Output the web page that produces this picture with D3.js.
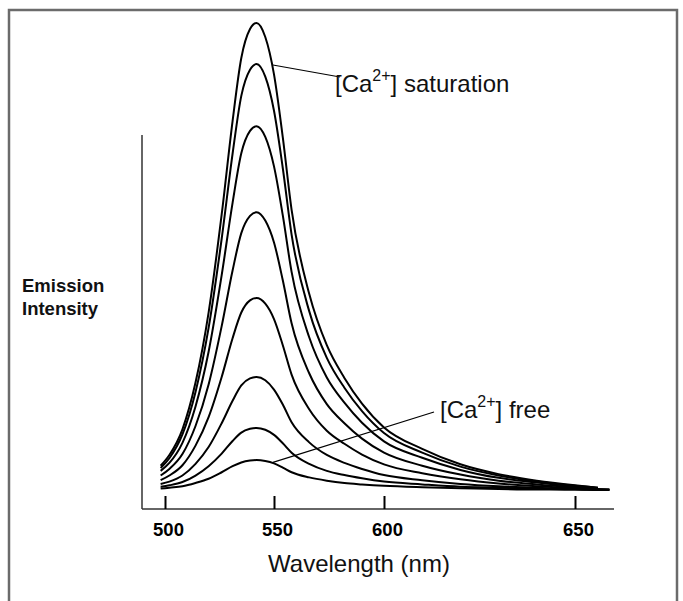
<!DOCTYPE html>
<html><head><meta charset="utf-8">
<script src="https://cdn.jsdelivr.net/npm/d3@7"></script>
<style>
html,body{margin:0;padding:0;background:#fff;}
svg{display:block;font-family:"Liberation Sans",Arial,Helvetica,sans-serif;}
</style></head>
<body>
<svg id="chart" width="683" height="601"></svg>
<script>
// ---- data ----
const wavelengths = [498,502,508,514,520,526,531,535,539,542,546,550,554,558,566,574,582,590,600,610,620,630,640,650,656,659];
const s1 = [5.2,7.5,13,23,38,59,79,92.5,98.7,100,97,89,75.5,60,42,31,24,18.5,13.4,8.8,5.5,3.4,2.0,1.0,0.5,null];
const s2 = [4.7,6.8,11.9,21.0,34.7,53.8,72.0,84.4,90.0,91.2,88.5,81.2,68.9,54.7,38.3,28.3,21.9,16.9,12.2,8.0,5.0,3.1,1.8,0.9,0.5,null];
const s3 = [4.1,5.8,10.1,17.9,29.6,46.0,61.5,72.1,76.9,77.9,75.6,69.3,58.8,46.7,32.7,24.1,18.7,14.4,10.4,6.9,4.3,2.6,1.6,0.8,0.4,null];
const s4 = [3.1,4.5,7.7,13.7,22.6,35.1,47.0,55.0,58.7,59.5,57.7,53.0,44.9,35.7,25.0,18.4,14.3,11.0,8.0,5.2,3.3,2.0,1.2,0.6,0.3,null];
const s5 = [2.1,3.1,5.3,9.5,15.6,24.2,32.5,38.0,40.6,41.1,39.9,36.6,31.0,24.7,17.3,12.7,9.9,7.6,5.5,3.6,2.3,1.4,0.8,0.4,0.2,0.1];
const s6 = [1.3,1.8,3.1,5.6,9.2,14.3,19.1,22.4,23.9,24.2,23.5,21.5,18.3,14.5,10.2,7.5,5.8,4.5,3.2,2.1,1.3,0.8,0.5,0.2,0.1,0.1];
const s7 = [0.7,1.0,1.7,3.1,5.1,7.8,10.5,12.3,13.1,13.3,12.9,11.8,10.0,8.0,5.6,4.1,3.2,2.5,1.8,1.2,0.7,0.5,0.3,0.1,0.1,0];
const s8 = [0.3,0.5,0.8,1.5,2.4,3.8,5.1,5.9,6.3,6.4,6.2,5.7,4.8,3.8,2.7,2.0,1.5,1.2,0.9,0.6,0.4,0.2,0.1,0.1,0,0];
const seriesList = [s1,s2,s3,s4,s5,s6,s7,s8];
const xTicks = [500,550,600,650];
const xLabel = "Wavelength (nm)";
const yLabelLines = ["Emission","Intensity"];

// ---- layout ----
const svg = d3.select("#chart");
const x = d3.scaleLinear().domain([500,550,600,650]).range([165,274,384,575]);
const y = d3.scaleLinear().domain([0,100]).range([490,23]);
const axisY = 509, axisLeft = 142, axisRight = 614, yAxisTop = 135;

// frame
svg.append("path")
  .attr("d", `M9,601 L9,10 L677,10 L677,601`)
  .attr("fill","none").attr("stroke","#6b6b6b").attr("stroke-width",2.5);

// axes
svg.append("line").attr("x1",axisLeft).attr("x2",axisLeft).attr("y1",yAxisTop).attr("y2",axisY)
  .attr("stroke","#333").attr("stroke-width",1.5);
svg.append("line").attr("x1",axisLeft).attr("x2",axisRight).attr("y1",axisY).attr("y2",axisY)
  .attr("stroke","#333").attr("stroke-width",1.5);

const xAxis = d3.axisBottom(x).tickValues(xTicks).tickSizeInner(-13).tickSizeOuter(0).tickPadding(14);
const gx = svg.append("g").attr("transform",`translate(0,${axisY})`).call(xAxis);
gx.select(".domain").remove();
gx.selectAll(".tick line").attr("stroke","#000").attr("stroke-width",2);
gx.selectAll(".tick text").attr("font-size",18.5).attr("font-weight","bold").attr("fill","#000")
  .attr("font-family","Liberation Sans, Arial, sans-serif").attr("dx",3);

svg.append("text").attr("x",359).attr("y",572).attr("text-anchor","middle")
  .attr("font-size",24).attr("fill","#111").text(xLabel);

svg.append("text").attr("x",22).attr("y",292).attr("font-size",18.5).attr("font-weight","bold")
  .attr("fill","#111")
  .selectAll("tspan").data(yLabelLines).join("tspan")
  .attr("x",22).attr("dy",(d,i)=>i===0?0:23).text(d=>d);

// curves
const line = d3.line()
  .defined(d=>d[1]!==null)
  .x(d=>x(d[0])).y(d=>y(d[1]))
  .curve(d3.curveMonotoneX);
svg.append("g").selectAll("path").data(seriesList).join("path")
  .attr("d", s => line(wavelengths.map((w,i)=>[w,s[i]])))
  .attr("fill","none").attr("stroke","#000").attr("stroke-width",2);

// annotations
function ca(g, xx, yy, rest){
  const t = g.append("text").attr("x",xx).attr("y",yy).attr("font-size",24).attr("fill","#111");
  t.append("tspan").text("[Ca");
  t.append("tspan").attr("font-size",16).attr("dy",-11).text("2+");
  t.append("tspan").attr("dy",11).text("] " + rest);
}
svg.append("line").attr("x1",x(549.5)).attr("y1",y(91)).attr("x2",340).attr("y2",77)
  .attr("stroke","#000").attr("stroke-width",1.2);
ca(svg, 335, 92, "saturation");
svg.append("line").attr("x1",x(549.5)).attr("y1",y(5.9)).attr("x2",434).attr("y2",412)
  .attr("stroke","#000").attr("stroke-width",1.2);
ca(svg, 440, 418, "free");
</script>
</body></html>
